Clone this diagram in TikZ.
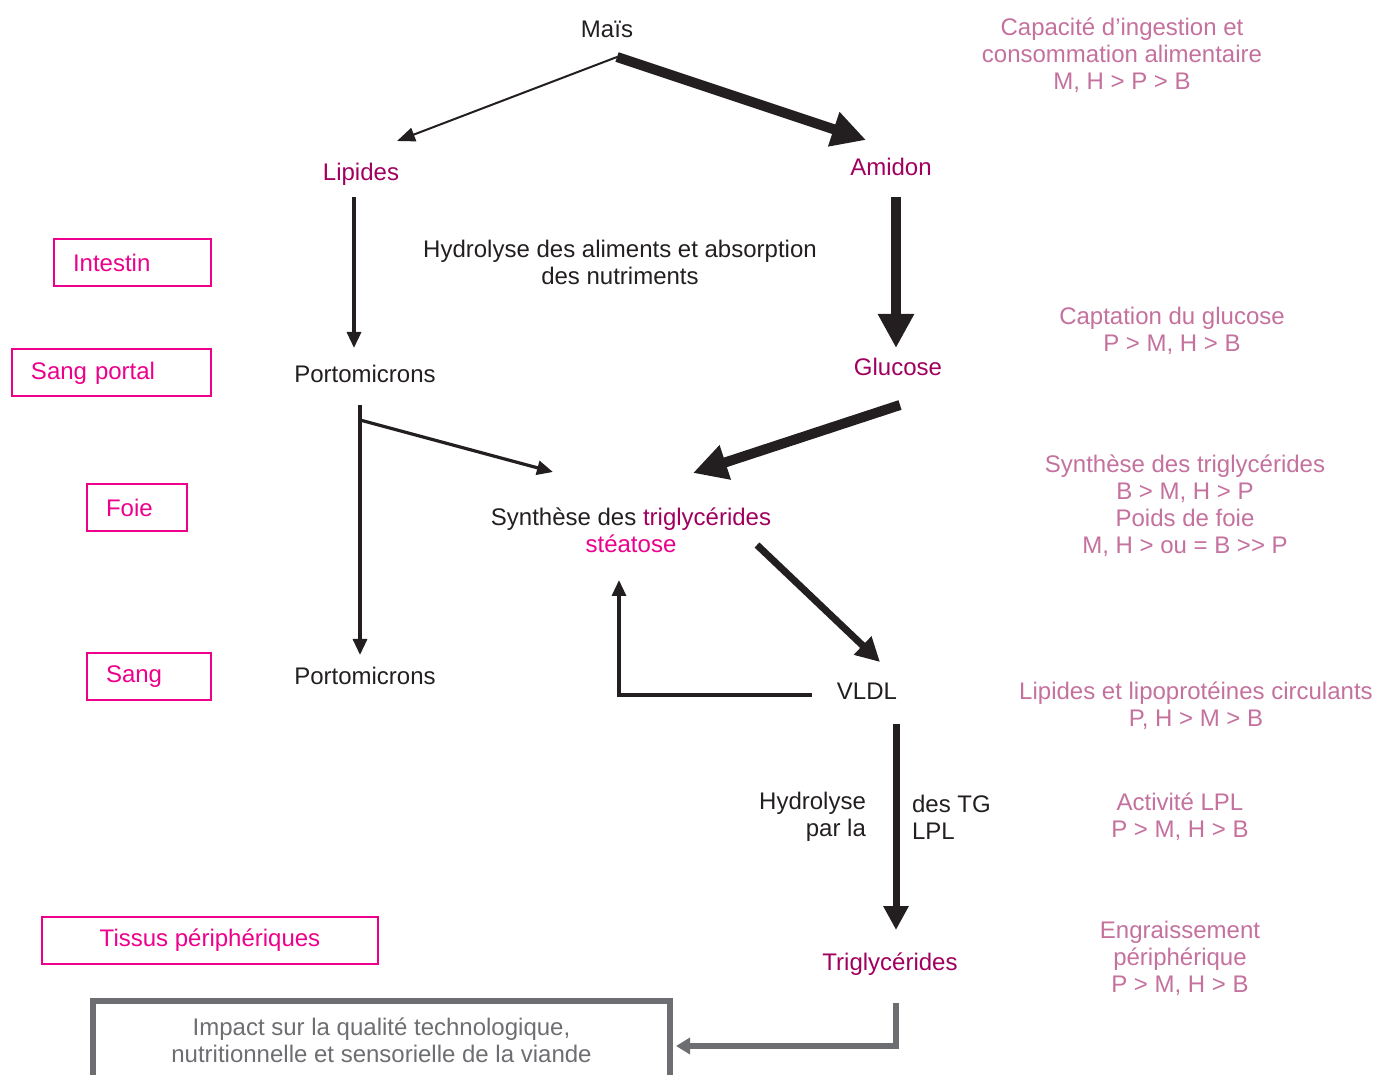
\documentclass[tikz,border=0pt]{standalone}
\usepackage{fontspec}
\setmainfont{Liberation Sans}
\usetikzlibrary{arrows.meta}
\usetikzlibrary{positioning}

\definecolor{boxpink}{HTML}{EC008C}
\definecolor{keymag}{HTML}{A0005E}
\definecolor{notemauve}{HTML}{C4719E}
\definecolor{impactgray}{HTML}{6D6E71}
\definecolor{txtblack}{HTML}{231F20}

\tikzset{
  every node/.style={font=\fontsize{12}{13.5}\selectfont, text=txtblack},
  keyterm/.style={text=keymag},
  note/.style={text=notemauve, align=center},
  organbox/.style={draw=boxpink, line width=1pt, text=boxpink, anchor=west,
    minimum height=23.5pt, inner xsep=9.5pt, align=left},
  impactbox/.style={draw=impactgray, line width=3pt, text=impactgray, align=center,
    minimum width=288.5pt, minimum height=39pt},
  thinflow/.style={draw=txtblack, line width=1pt, -{Triangle[length=9pt,width=7pt]}},
  midflow/.style={draw=txtblack, line width=1.6pt, -{Triangle[length=8pt,width=7pt]}},
  heavyflow/.style={draw=txtblack, line width=5pt, -{Triangle[length=17pt,width=17pt]}},
  strongflow/.style={draw=txtblack, line width=3.5pt, -{Triangle[length=12pt,width=12pt]}},
  grayflow/.style={draw=impactgray, line width=3pt, -{Triangle[length=7pt,width=8pt]}}
}

\begin{document}
\begin{tikzpicture}[x=0.5pt, y=-0.5pt]
  \useasboundingbox (0,0) rectangle (1373,1075);

  % left column
  \node[organbox, text width=59.5pt] (intestin) at (53,262.5) {Intestin};
  \node[organbox, text width=80.5pt] (sangportal) at (11,373) {Sang portal};
  \node[organbox, text width=31pt] (foie) at (86,508) {Foie};
  \node[organbox, text width=43pt] (sang) at (86,676.5) {Sang};
  \node[draw=boxpink, line width=1pt, text=boxpink, minimum width=168pt,
    minimum height=23.5pt] (tissus) at (210,940) {Tissus périphériques};

  % main flow
  \node (mais) at (607,29) {Maïs};
  \node[keyterm] (lipides) at (361,174) {Lipides};
  \node[keyterm] (amidon) at (891,167) {Amidon};
  \node[align=center] (hydro) at (620,262) {Hydrolyse des aliments et absorption\\des nutriments};
  \node (porto1) at (365,374) {Portomicrons};
  \node[keyterm] (glucose) at (898,367) {Glucose};
  \node[align=center] (synth) at (631,530) {Synthèse des \textcolor{keymag}{triglycérides}\\\textcolor{boxpink}{stéatose}};
  \node (porto2) at (365,676) {Portomicrons};
  \node (vldl) at (867,691) {VLDL};
  \node[align=right, anchor=east] (hydl) at (873,817) {Hydrolyse\\par la};
  \node[align=left, anchor=west] (tgl) at (905,817) {des TG\\LPL};
  \node[keyterm] (trig) at (890,964) {Triglycérides};
  \node[impactbox] (impact) at (381.5,1040) {Impact sur la qualité technologique,\\nutritionnelle et sensorielle de la viande};

  \draw[thinflow] ([shift={(10,28)}]mais.center) -- ([shift={(36,-33)}]lipides.center);
  \draw[heavyflow] ([shift={(10,28)}]mais.center) -- ([shift={(-25,-27)}]amidon.center);
  \draw[midflow] ([shift={(-7,23)}]lipides.center) -- ([shift={(-11,-26)}]porto1.center);
  \draw[heavyflow] ([shift={(5,30)}]amidon.center) -- ([shift={(-2,-19)}]glucose.center);
  \draw[heavyflow] ([shift={(2,38)}]glucose.center) -- ([shift={(62,-57)}]synth.center);
  \draw[midflow] ([shift={(-5,31)}]porto1.center) -- ([shift={(-5,-21)}]porto2.center);
  \draw[midflow] ([shift={(-5,46)}]porto1.center) -- ([shift={(-78,-58)}]synth.center);
  \draw[strongflow] ([shift={(126,15)}]synth.center) -- ([shift={(13,-29)}]vldl.center);
  \draw[midflow] ([shift={(-55,4)}]vldl.center) -| ([shift={(-12,50)}]synth.center);
  \draw[strongflow] ([shift={(29,33)}]vldl.center) -- ([shift={(6,-34)}]trig.center);
  \draw[grayflow] ([shift={(6,39)}]trig.center) |- ([shift={(3,6)}]impact.east);

  % right column
  \node[note] (ingest) at (1122,55) {Capacité d’ingestion et\\consommation alimentaire\\M, H > P > B};
  \node[note] (captation) at (1172,330.5) {Captation du glucose\\P > M, H > B};
  \node[note] (synthnote) at (1185,506) {Synthèse des triglycérides\\B > M, H > P\\Poids de foie\\M, H > ou = B >{}> P};
  \node[note] (circul) at (1196,705.5) {Lipides et lipoprotéines circulants\\P, H > M > B};
  \node[note] (lpl) at (1180,816.5) {Activité LPL\\P > M, H > B};
  \node[note] (engrais) at (1180,958) {Engraissement\\périphérique\\P > M, H > B};
\end{tikzpicture}
\end{document}
